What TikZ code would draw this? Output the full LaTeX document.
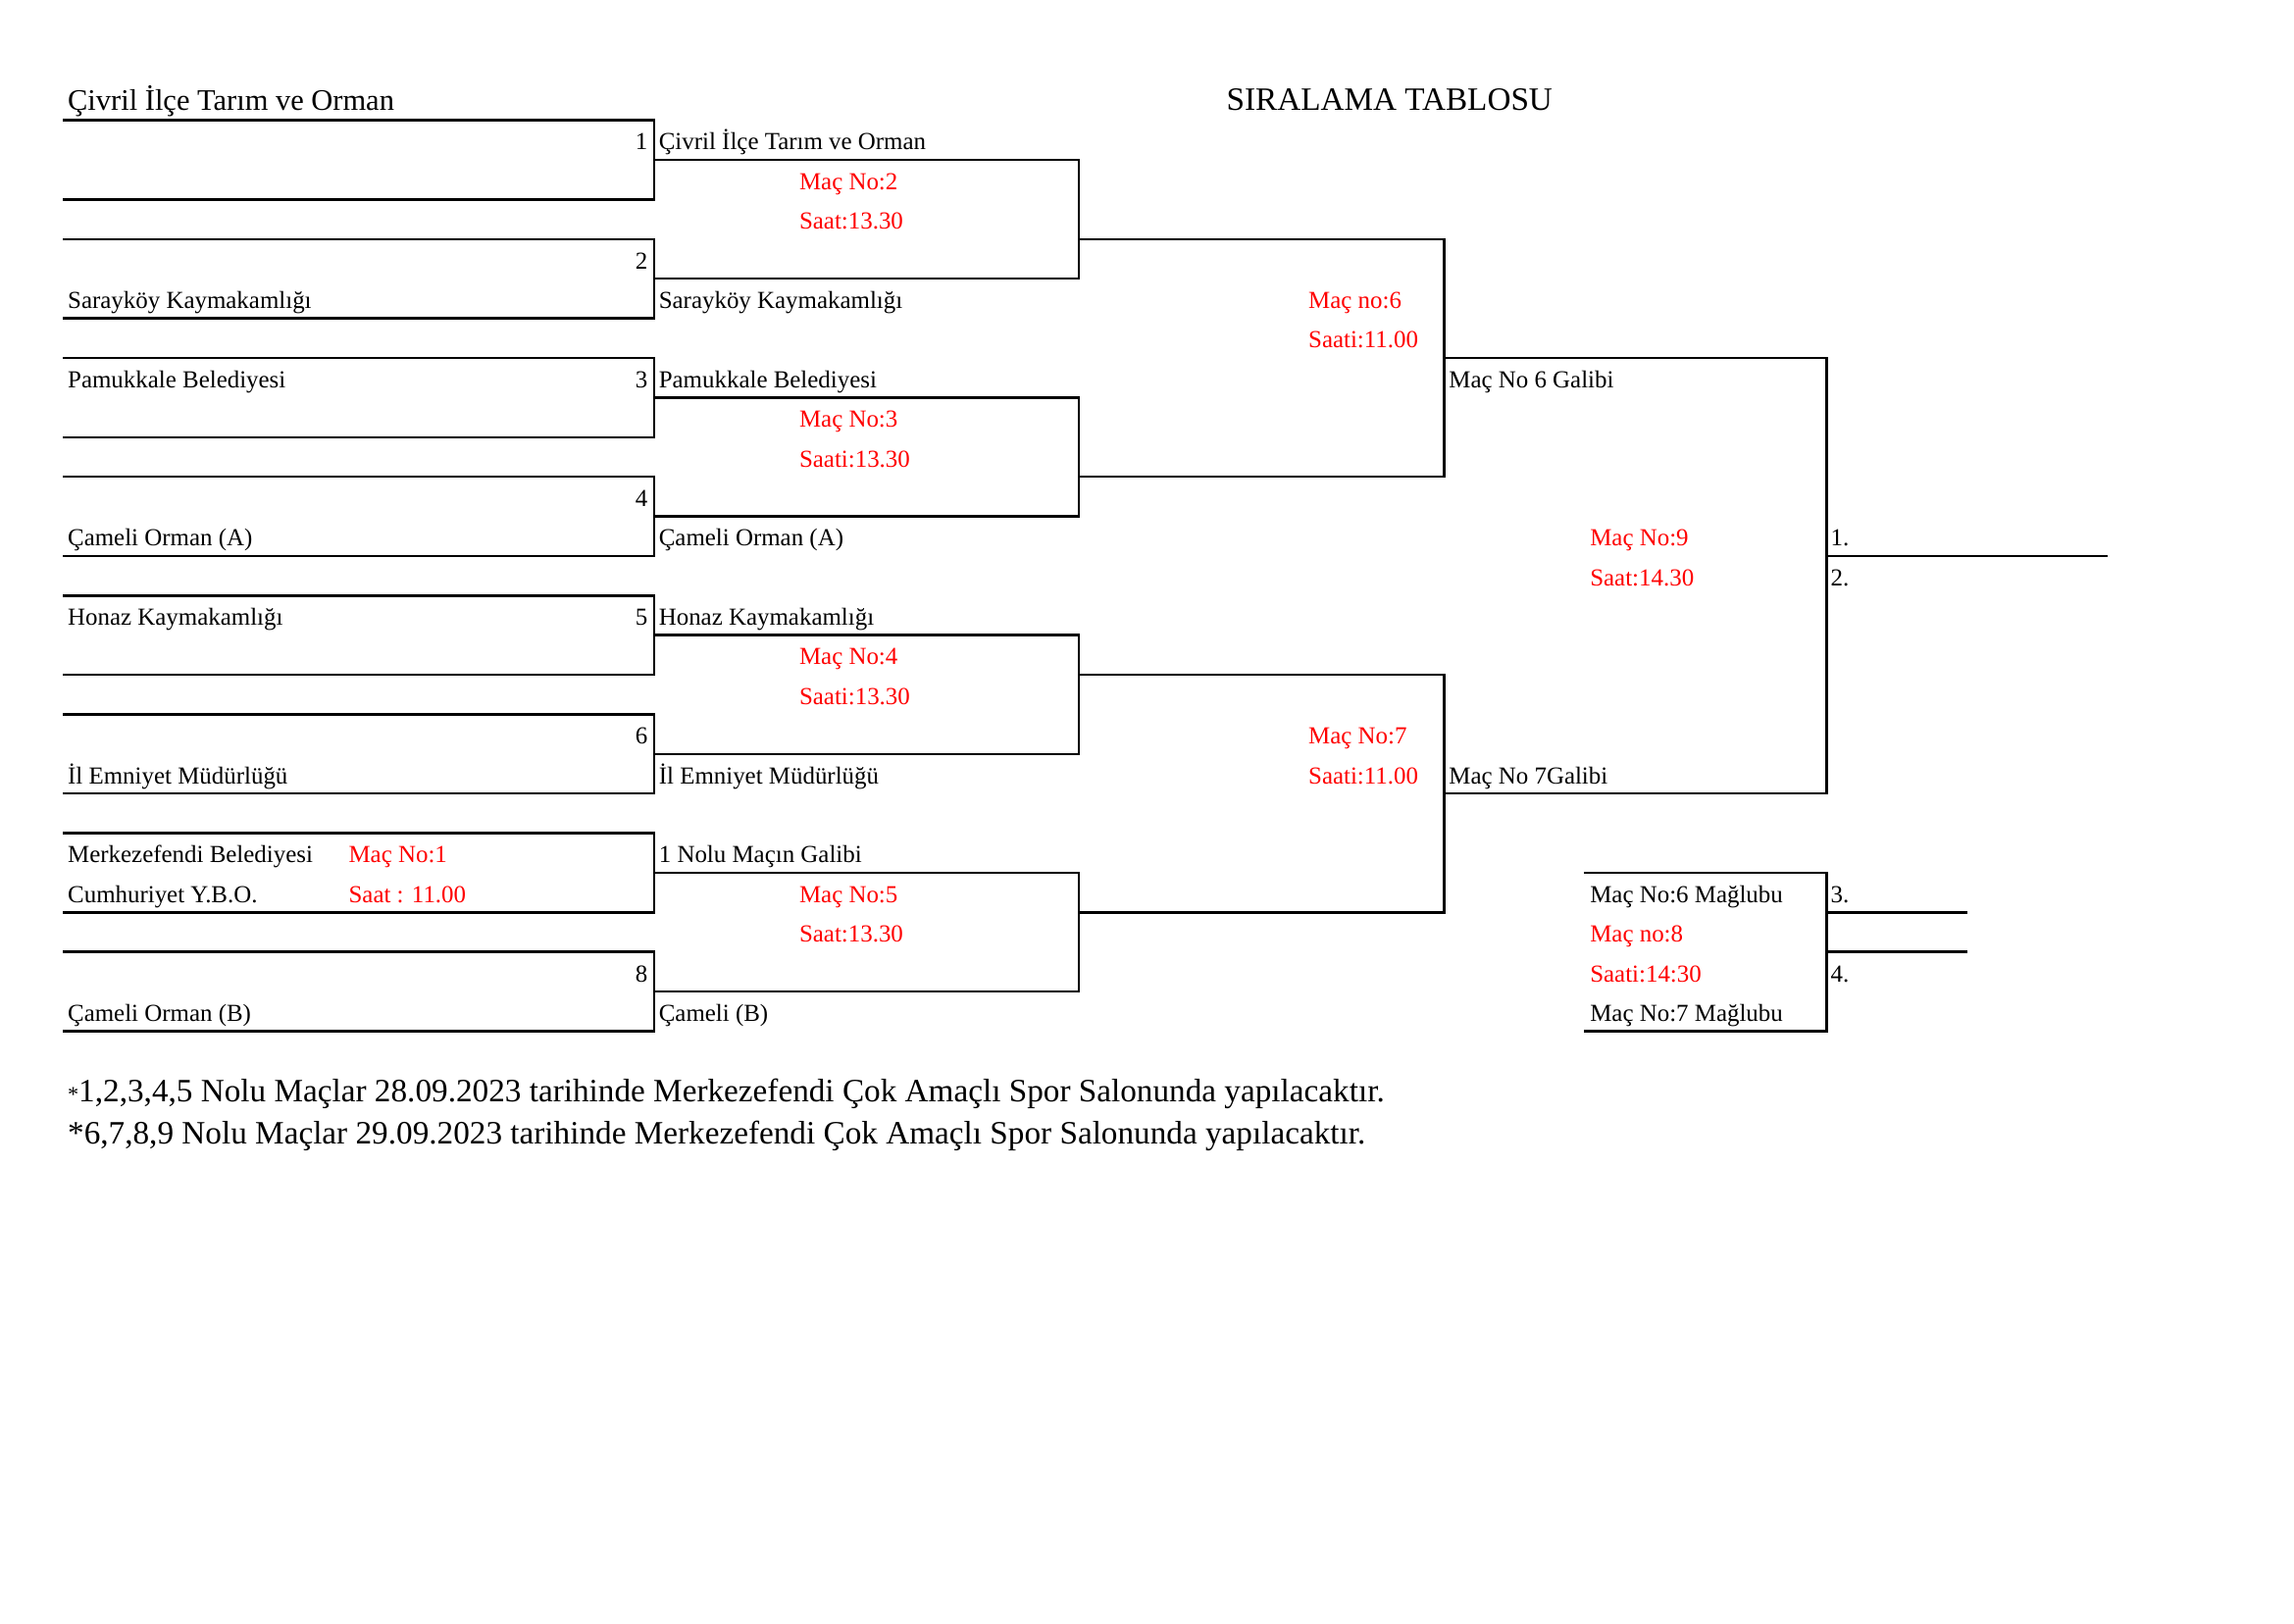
\documentclass[tikz,border=0pt]{standalone}
\usepackage{fontspec}
\setmainfont{Liberation Serif}
\usepackage{tikz}
\tikzset{
  team/.style={anchor=base west, inner sep=0pt, font=\fontsize{9}{11}\selectfont},
  mac/.style={team, text=red},
  seed/.style={anchor=base east, inner sep=0pt, font=\fontsize{9}{11}\selectfont}
}
\tikzstyle{bracket} = [line width=0.9pt,black]
\tikzstyle{baslik} = [anchor=base west, inner sep=0pt]

\begin{document}
\begin{tikzpicture}[x=0.018941cm,y=-0.5126cm]
    \useasboundingbox (0,-3.038) rectangle (1568,37.95);
    % lines of the bracket
    \draw [bracket] (43,0) -- (447,0) -- (447,2) -- (43,2);
    \draw [bracket] (43,3) -- (447,3) -- (447,5) -- (43,5);
    \draw [bracket] (43,6) -- (447,6) -- (447,8) -- (43,8);
    \draw [bracket] (43,9) -- (447,9) -- (447,11) -- (43,11);
    \draw [bracket] (43,12) -- (447,12) -- (447,14) -- (43,14);
    \draw [bracket] (43,15) -- (447,15) -- (447,17) -- (43,17);
    \draw [bracket] (43,18) -- (447,18) -- (447,20) -- (43,20);
    \draw [bracket] (43,21) -- (447,21) -- (447,23) -- (43,23);
    \draw [bracket] (447,1) -- (737.5,1) -- (737.5,4) -- (447,4);
    \draw [bracket] (447,7) -- (737.5,7) -- (737.5,10) -- (447,10);
    \draw [bracket] (447,13) -- (737.5,13) -- (737.5,16) -- (447,16);
    \draw [bracket] (447,19) -- (737.5,19) -- (737.5,22) -- (447,22);
    \draw [bracket] (737.5,3) -- (987,3) -- (987,9) -- (737.5,9);
    \draw [bracket] (737.5,14) -- (987,14) -- (987,20) -- (737.5,20);
    \draw [bracket] (987,6) -- (1248.5,6) -- (1248.5,17) -- (987,17);
    \draw [bracket] (1248.5,11) -- (1440.7,11);
    \draw [bracket] (1082.6,19) -- (1248.5,19) -- (1248.5,23) -- (1082.6,23);
    \draw [bracket] (1248.5,20) -- (1344.5,20);
    \draw [bracket] (1248.5,21) -- (1344.5,21);
    % titles
    \node [baslik, font=\fontsize{11}{13}\selectfont] (title) at (46,-0.25) {Çivril İlçe Tarım ve Orman};
    \node [baslik, font=\fontsize{12}{14}\selectfont] (siralama) at (838,-0.25) {SIRALAMA TABLOSU};
    % first round
    \node [seed] (s1) at (443,0.75) {1};
    \node [seed] (s2) at (443,3.75) {2};
    \node [team] (t2) at (46,4.75) {Sarayköy Kaymakamlığı};
    \node [team] (t3) at (46,6.75) {Pamukkale Belediyesi};
    \node [seed] (s3) at (443,6.75) {3};
    \node [seed] (s4) at (443,9.75) {4};
    \node [team] (t4) at (46,10.75) {Çameli Orman (A)};
    \node [team] (t5) at (46,12.75) {Honaz Kaymakamlığı};
    \node [seed] (s5) at (443,12.75) {5};
    \node [seed] (s6) at (443,15.75) {6};
    \node [team] (t6) at (46,16.75) {İl Emniyet Müdürlüğü};
    \node [team] (t7a) at (46,18.75) {Merkezefendi Belediyesi};
    \node [mac] (mac1) at (238,18.75) {Maç No:1};
    \node [team] (t7b) at (46,19.75) {Cumhuriyet Y.B.O.};
    \node [mac] (saat1) at (238,19.75) {Saat : 11.00};
    \node [seed] (s8) at (443,21.75) {8};
    \node [team] (t8) at (46,22.75) {Çameli Orman (B)};
    % second round
    \node [team] (r1) at (450,0.75) {Çivril İlçe Tarım ve Orman};
    \node [mac] (mac2) at (546,1.75) {Maç No:2};
    \node [mac] (saat2) at (546,2.75) {Saat:13.30};
    \node [team] (r2) at (450,4.75) {Sarayköy Kaymakamlığı};
    \node [team] (r3) at (450,6.75) {Pamukkale Belediyesi};
    \node [mac] (mac3) at (546,7.75) {Maç No:3};
    \node [mac] (saat3) at (546,8.75) {Saati:13.30};
    \node [team] (r4) at (450,10.75) {Çameli Orman (A)};
    \node [team] (r5) at (450,12.75) {Honaz Kaymakamlığı};
    \node [mac] (mac4) at (546,13.75) {Maç No:4};
    \node [mac] (saat4) at (546,14.75) {Saati:13.30};
    \node [team] (r6) at (450,16.75) {İl Emniyet Müdürlüğü};
    \node [team] (r7) at (450,18.75) {1 Nolu Maçın Galibi};
    \node [mac] (mac5) at (546,19.75) {Maç No:5};
    \node [mac] (saat5) at (546,20.75) {Saat:13.30};
    \node [team] (r8) at (450,22.75) {Çameli (B)};
    % semi finals
    \node [mac] (mac6) at (894,4.75) {Maç no:6};
    \node [mac] (saat6) at (894,5.75) {Saati:11.00};
    \node [team] (g6) at (990,6.75) {Maç No 6 Galibi};
    \node [mac] (mac7) at (894,15.75) {Maç No:7};
    \node [mac] (saat7) at (894,16.75) {Saati:11.00};
    \node [team] (g7) at (990,16.75) {Maç No 7Galibi};
    % final and third place
    \node [mac] (mac9) at (1086.5,10.75) {Maç No:9};
    \node [mac] (saat9) at (1086.5,11.75) {Saat:14.30};
    \node [team] (d1) at (1251,10.75) {1.};
    \node [team] (d2) at (1251,11.75) {2.};
    \node [team] (k6) at (1086.5,19.75) {Maç No:6 Mağlubu};
    \node [mac] (mac8) at (1086.5,20.75) {Maç no:8};
    \node [mac] (saat8) at (1086.5,21.75) {Saati:14:30};
    \node [team] (k7) at (1086.5,22.75) {Maç No:7 Mağlubu};
    \node [team] (d3) at (1251,19.75) {3.};
    \node [team] (d4) at (1251,21.75) {4.};
    % notes
    \node [baslik, font=\fontsize{12}{14}\selectfont] (not1) at (46,24.79) {{\fontsize{8}{8}\selectfont *}1,2,3,4,5 Nolu Maçlar 28.09.2023 tarihinde Merkezefendi Çok Amaçlı Spor Salonunda yapılacaktır.};
    \node [baslik, font=\fontsize{12}{14}\selectfont] (not2) at (46,25.86) {*6,7,8,9 Nolu Maçlar 29.09.2023 tarihinde Merkezefendi Çok Amaçlı Spor Salonunda yapılacaktır.};
\end{tikzpicture}
\end{document}
